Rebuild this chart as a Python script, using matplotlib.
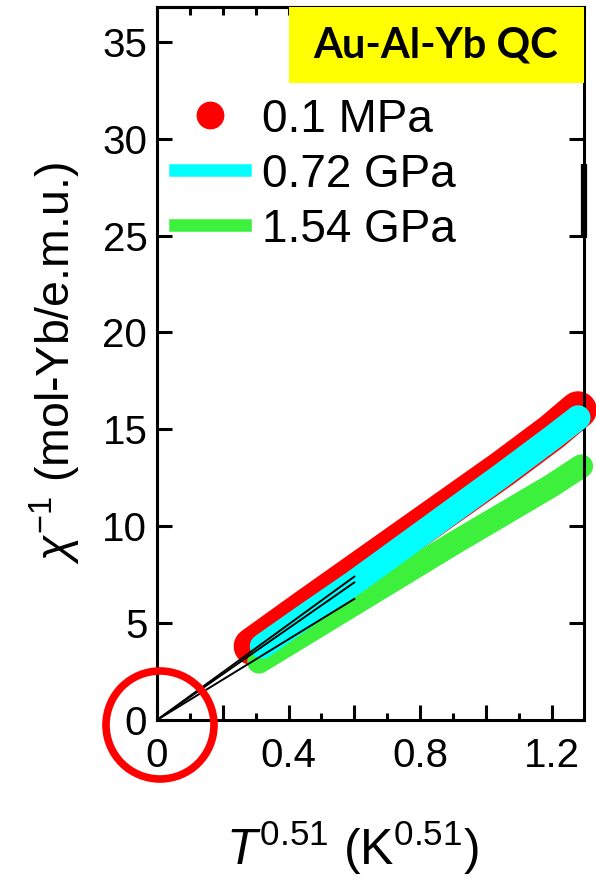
import matplotlib
matplotlib.use("Agg")
from matplotlib import pyplot as plt
from matplotlib.lines import Line2D
from matplotlib.patches import Rectangle, Ellipse
from matplotlib.ticker import FixedLocator, FixedFormatter

plt.rcParams['font.family'] = ['Liberation Sans', 'DejaVu Sans']
plt.rcParams['mathtext.fontset'] = 'custom'
plt.rcParams['mathtext.rm'] = 'Liberation Sans'
plt.rcParams['mathtext.it'] = 'Liberation Sans:italic'

# chi^-1 vs T^0.51
x_01mpa = [0.29, 0.45, 0.60, 0.75, 0.90, 1.05, 1.20, 1.28]
y_01mpa = [3.8, 5.75, 7.55, 9.35, 11.15, 12.95, 14.85, 16.0]
x_072gpa = [0.32, 0.45, 0.60, 0.75, 0.90, 1.05, 1.20, 1.28]
y_072gpa = [3.8, 5.35, 7.1, 8.95, 10.8, 12.65, 14.55, 15.6]
x_154gpa = [0.31, 0.45, 0.60, 0.75, 0.90, 1.05, 1.20, 1.29]
y_154gpa = [3.0, 4.45, 6.0, 7.55, 9.1, 10.6, 12.1, 13.1]

# power-law fits through the origin
fit_x = [0.0, 0.6]
fit_ends = [7.4, 7.1, 6.25]

labels = ['0.1 MPa', '0.72 GPa', '1.54 GPa']
colors = ['#ff0000', '#00ffff', '#3cf03c']

xticks_major = [0.0, 0.2, 0.4, 0.6, 0.8, 1.0, 1.2]
xticklabels = ['0', '', '0.4', '', '0.8', '', '1.2']
xticks_minor = [0.1, 0.3, 0.5, 0.7, 0.9, 1.1, 1.3]
yticks = [0, 5, 10, 15, 20, 25, 30, 35]
yticklabels = ['0', '5', '10', '15', '20', '25', '30', '35']
artifact_y = [24.9, 28.7]

fig = plt.figure(figsize=(5.96, 8.82), dpi=100)
ax = fig.add_axes([0.2634, 0.1837, 0.7164, 0.8084])

ax.plot(x_01mpa, y_01mpa, color=colors[0], lw=27, solid_capstyle='round', clip_on=False, zorder=2)
ax.plot(x_072gpa, y_072gpa, color=colors[1], lw=18, solid_capstyle='round', clip_on=False, zorder=3)
ax.plot(x_154gpa, y_154gpa, color=colors[2], lw=17, solid_capstyle='round', clip_on=False, zorder=2)
for yend in fit_ends:
    ax.plot(fit_x, [0, yend], color='black', lw=1.4, zorder=4)

ax.set_xlim(0, 1.298)
ax.set_ylim(0, 36.8)

ax.xaxis.set_major_locator(FixedLocator(xticks_major))
ax.xaxis.set_major_formatter(FixedFormatter(xticklabels))
ax.xaxis.set_minor_locator(FixedLocator(xticks_minor))
ax.set_yticks(yticks)
ax.set_yticklabels(yticklabels)
ax.tick_params(axis='both', which='major', direction='in', length=11, width=2.2,
               labelsize=29, right=True)
ax.tick_params(axis='x', which='major', pad=12)
ax.tick_params(axis='y', which='major', pad=7)
ax.tick_params(axis='x', which='minor', direction='in', length=5, width=2.2)
for s in ax.spines.values():
    s.set_linewidth(2.2)

# short ticks every 0.1 along the top
top = ax.secondary_xaxis('top')
top.set_xticks(sorted(xticks_major + xticks_minor))
top.set_xticklabels([])
top.tick_params(direction='in', length=6, width=2.2)
top.spines['top'].set_linewidth(2.2)

ax.vlines(ax.get_xlim()[1], artifact_y[0], artifact_y[1], color='black', lw=4.5, clip_on=False)

# yellow sample tag
ax.add_patch(Rectangle((0.309, 0.893), 0.691, 0.107, transform=ax.transAxes,
                       facecolor='#ffff00', edgecolor='none', zorder=5))
ax.text(0.653, 0.946, 'Au-Al-Yb QC', transform=ax.transAxes, ha='center', va='center',
        fontsize=30, fontweight='bold', family=['Lato', 'DejaVu Sans'], zorder=6)

handles = [Line2D([], [], ls='none', marker='o', ms=19, color=colors[0]),
           Line2D([], [], color=colors[1], lw=9),
           Line2D([], [], color=colors[2], lw=9)]
ax.legend(handles, labels, loc='upper left', bbox_to_anchor=(0.042, 0.873), frameon=False,
          fontsize=33, handlelength=1.53, handletextpad=0.38, labelspacing=0.24,
          borderpad=0, borderaxespad=0)

fig.text(352 / 596, 17 / 882, r'$T^{0.51}$ (K$^{0.51}$)', ha='center', va='baseline', fontsize=36)
fig.text(28 / 596, 0.588, r'$\chi^{-1}$ (mol-Yb/e.m.u.)', rotation=90, ha='left', va='center',
         fontsize=33.5)

# red circle around the origin
fig.add_artist(Ellipse((160 / 596, 157 / 882), 108 / 596, 108 / 882, transform=fig.transFigure,
                       fill=False, edgecolor='#ff0000', lw=5.5))

fig.savefig('out.png', dpi=100)
